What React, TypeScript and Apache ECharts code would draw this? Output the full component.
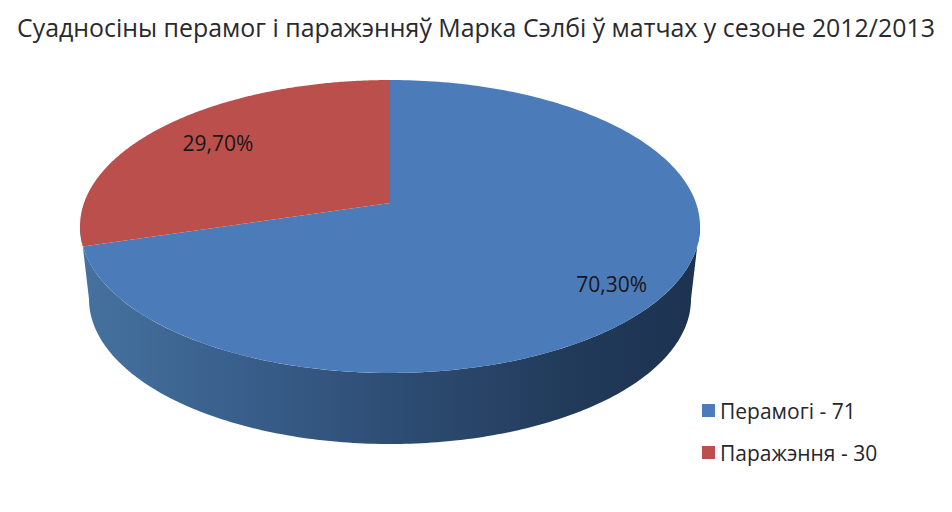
import React, { useEffect, useRef } from "react";
import * as echarts from "echarts";

const titleText = "Суадносіны перамог і паражэнняў Марка Сэлбі ў матчах у сезоне 2012/2013";
const names = ["Перамогі - 71", "Паражэння - 30"];
const values = [71, 30];
const colors = ["#4b7cb9", "#bb4f4c"];
const labelRadius = [0.83, 0.75];
const FONT = "'Open Sans', sans-serif";

const total = values.reduce((a, b) => a + b, 0);

// Perspective projection of the pie's top disc
const CX = 390, CY = 203, A = 306, B = 142.7, K = 0.1604;
function project(u: number, v: number): number[] {
  const w = 1 - K * v;
  return [CX + (A * u) / w, CY + (B * v) / w];
}
function rim(deg: number, r = 1): number[] {
  const t = (deg * Math.PI) / 180;
  return project(r * Math.sin(t), -r * Math.cos(t));
}

function wallPoints(): number[][] {
  const pts: number[][] = [];
  // top disc's front half, left extreme to right extreme
  for (let d = 262; d >= 98; d -= 1) pts.push(rim(d));
  // bottom disc's front half, right extreme to left extreme
  const bx = 390, by = 299, brx = 301, bry = 145;
  for (let d = 0; d <= 180; d += 1) {
    const t = (d * Math.PI) / 180;
    pts.push([bx + brx * Math.cos(t), by + bry * Math.sin(t)]);
  }
  return pts;
}

function makeItem(seriesIndex: number) {
  return (_params: any, api: any) => {
    const value = api.value(0) as number;
    const before = values.slice(0, seriesIndex).reduce((a, b) => a + b, 0);
    const start = (before / total) * 360;
    const sweep = (value / total) * 360;
    const pts: number[][] = [rim(0, 0)];
    for (let i = 0; i <= 240; i++) pts.push(rim(start + (sweep * i) / 240));
    const children: any[] = [];
    if (seriesIndex === 0) {
      children.push({
        type: "polygon",
        shape: { points: wallPoints() },
        style: {
          fill: {
            type: "linear", x: 0, y: 0, x2: 1, y2: 0,
            colorStops: [
              { offset: 0, color: "#46729f" },
              { offset: 0.25, color: "#395f8c" },
              { offset: 0.55, color: "#2c4a70" },
              { offset: 0.8, color: "#213a59" },
              { offset: 1, color: "#1c3250" },
            ],
          },
        },
      });
    }
    children.push({ type: "polygon", shape: { points: pts }, style: { fill: colors[seriesIndex] } });
    const mid = rim(start + sweep / 2, labelRadius[seriesIndex]);
    children.push({
      type: "text",
      style: {
        x: mid[0], y: mid[1] + (seriesIndex === 0 ? 4 : -1),
        text: ((value / total) * 100).toFixed(2).replace(".", ",") + "%",
        fill: "#1c1416", fontSize: 21, fontFamily: FONT,
        align: "center", verticalAlign: "middle",
      },
    });
    return { type: "group", children };
  };
}

export default function App() {
  const ref = useRef<HTMLDivElement>(null);
  useEffect(() => {
    document.body.style.margin = "0";
    const chart = echarts.init(ref.current!, null, { renderer: "svg" });
    chart.setOption({
      animation: false,
      backgroundColor: "#ffffff",
      title: {
        text: titleText, left: 12, top: 9,
        textStyle: { fontFamily: FONT, fontSize: 24.9, fontWeight: "normal", color: "#2a2a2e" },
      },
      legend: {
        data: names, orient: "vertical", left: 697, top: 395,
        icon: "rect", itemWidth: 13, itemHeight: 13, itemGap: 21, selectedMode: false,
        textStyle: { fontFamily: FONT, fontSize: 21, color: "#26262b" },
      },
      series: names.map((name, i) => ({
        type: "custom", name, coordinateSystem: "none",
        itemStyle: { color: colors[i] },
        data: [[values[i]]],
        renderItem: makeItem(i),
      })),
    });
    return () => chart.dispose();
  }, []);
  return <div ref={ref} style={{ position: "fixed", left: 0, top: 0, width: 952, height: 512 }} />;
}
